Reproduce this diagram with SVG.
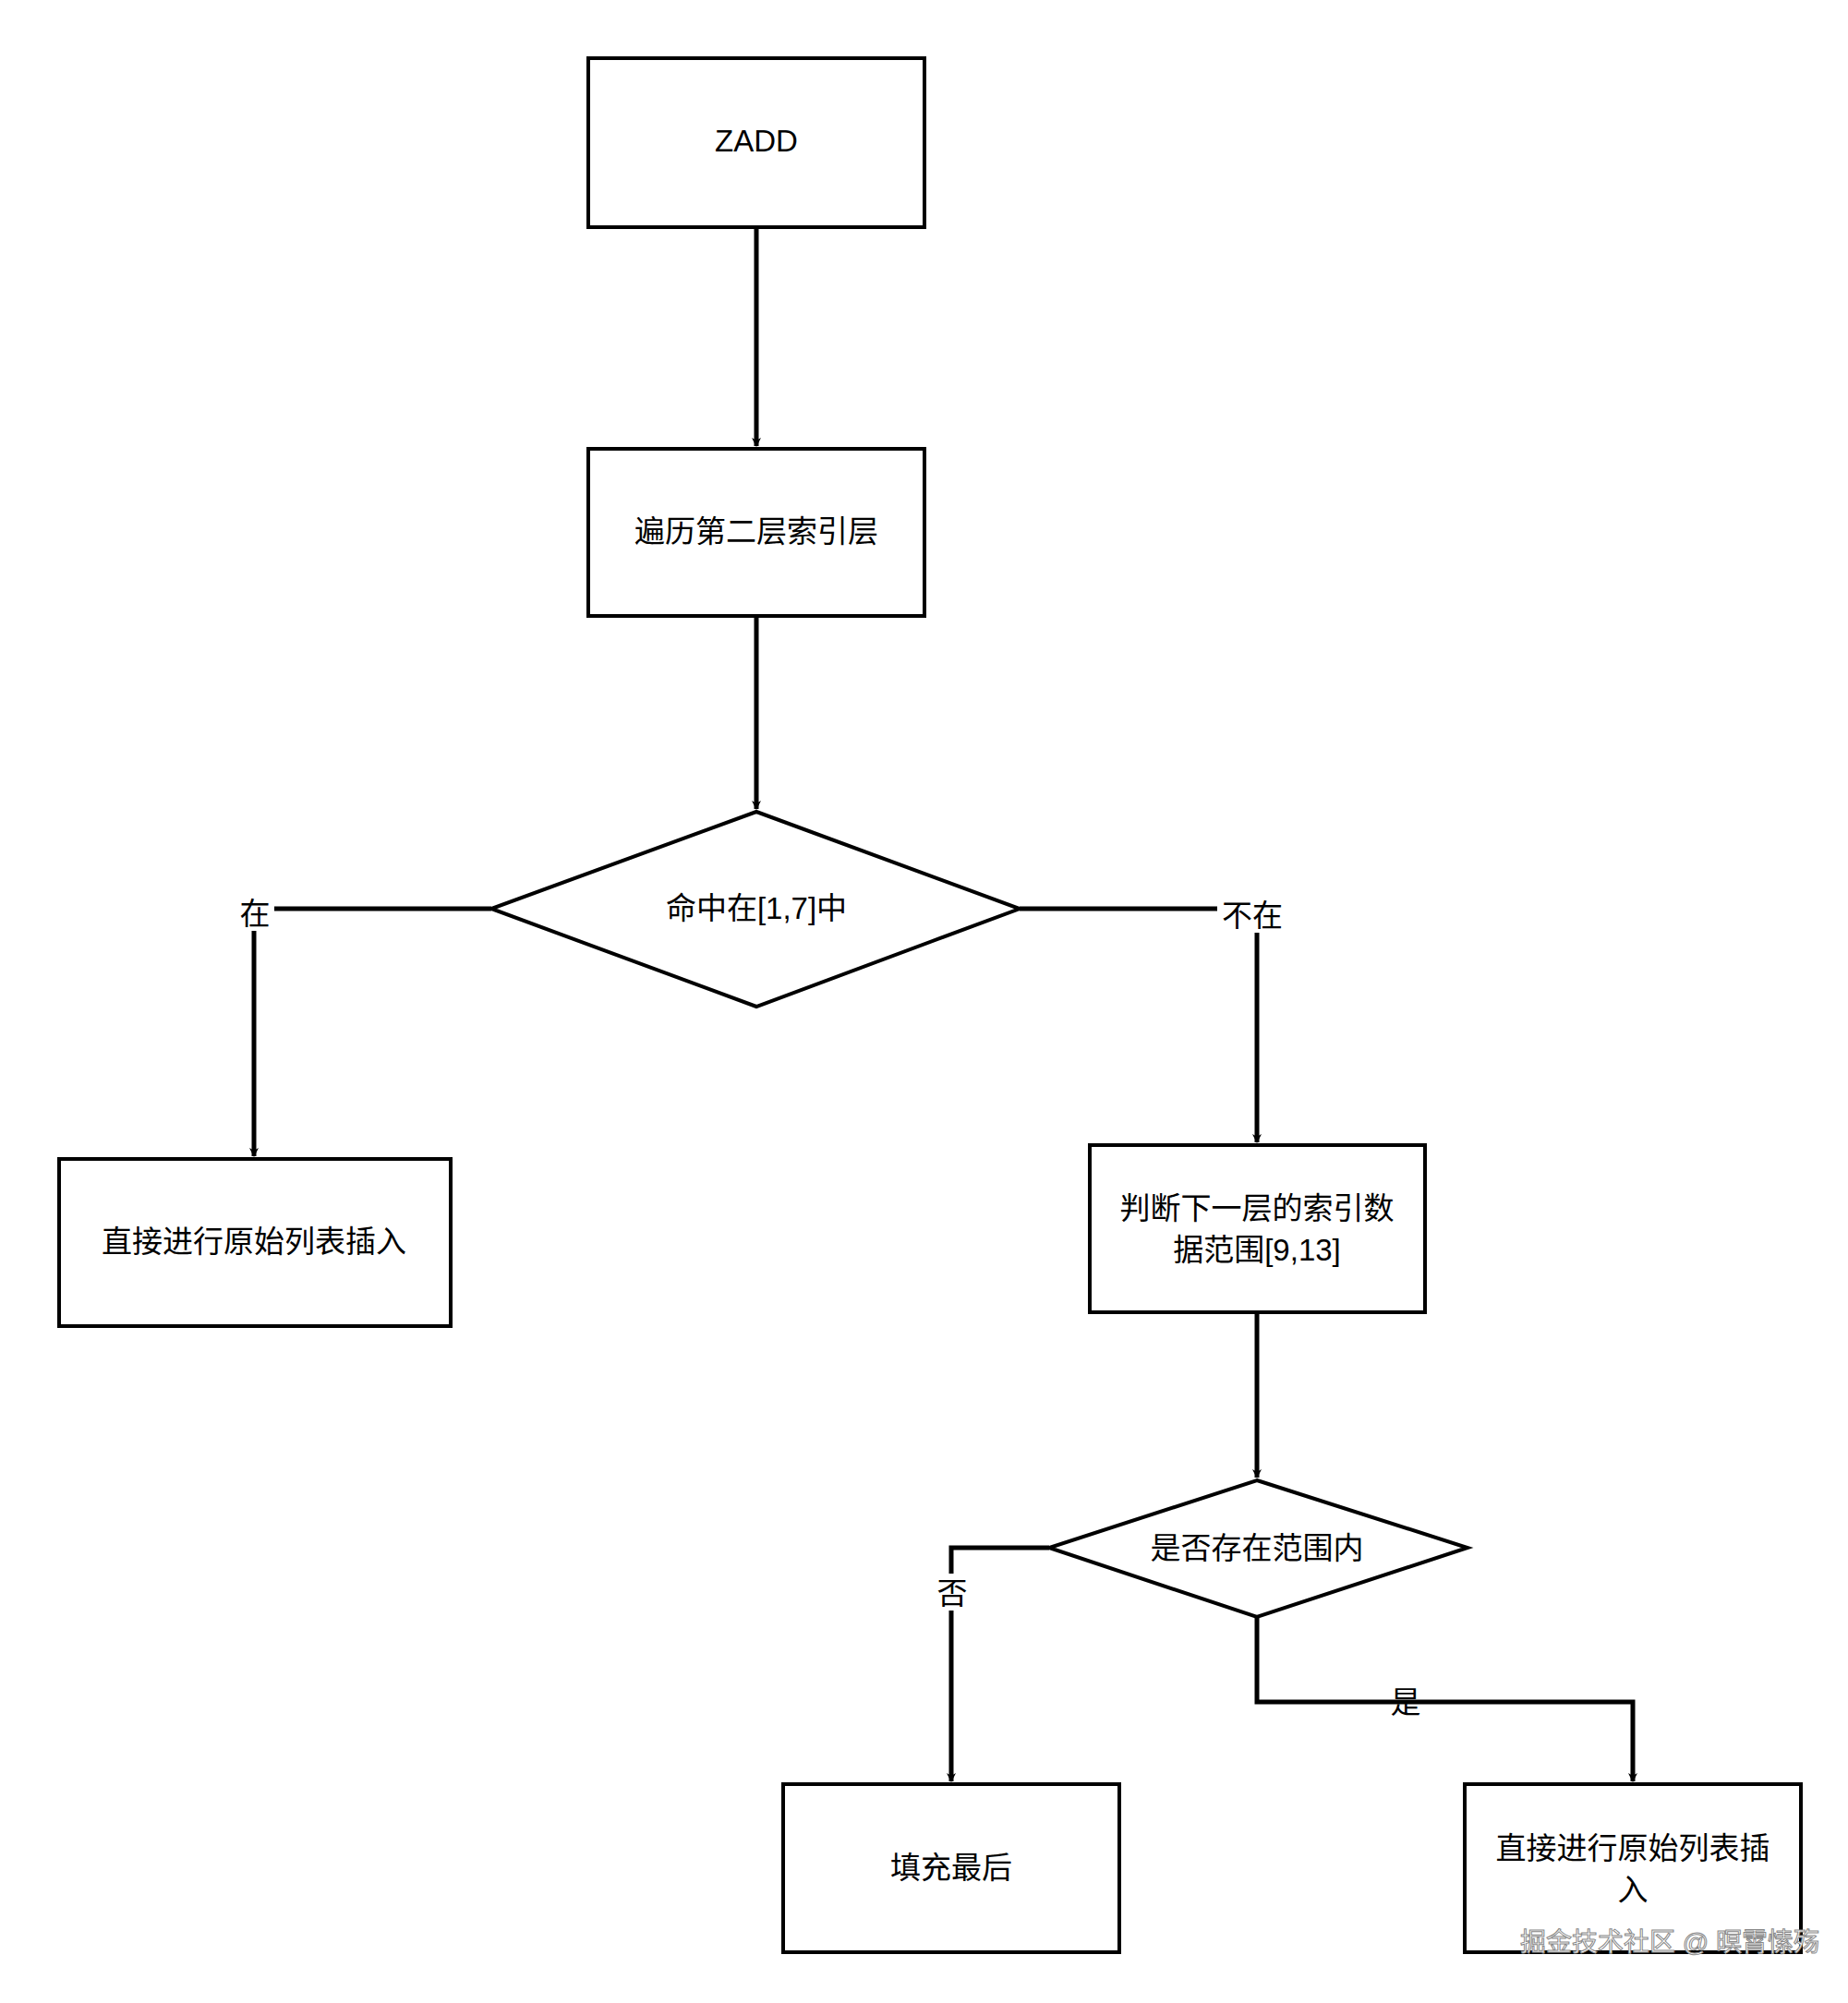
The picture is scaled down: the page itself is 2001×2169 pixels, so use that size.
<svg xmlns="http://www.w3.org/2000/svg" width="2001" height="2169" viewBox="0 0 2001 2169">
<defs>
<marker id="a" markerWidth="10" markerHeight="10" refX="9" refY="5" orient="auto" markerUnits="userSpaceOnUse" viewBox="0 0 10 10"><path d="M0,0 L10,5 L0,10 L3,5 Z" fill="#000"/></marker>
<style>
.n{fill:#fff;stroke:#000;stroke-width:4}
.t{font-family:"Liberation Sans","Noto Sans CJK SC",sans-serif;font-size:33px;text-anchor:middle;fill:#000}
.c{fill:none;stroke:#000;stroke-width:5}
.l{font-family:"Liberation Sans","Noto Sans CJK SC",sans-serif;font-size:33px;text-anchor:middle;fill:#000}
</style>
</defs>
<rect width="2001" height="2169" fill="#fff"/>
<g id="connectors">
<path class="c" d="M819,246 V483" marker-end="url(#a)"/>
<path class="c" d="M819,667 V876" marker-end="url(#a)"/>
<path class="c" d="M532,984 H275 V1252" marker-end="url(#a)"/>
<path class="c" d="M1104,984 H1361 V1237" marker-end="url(#a)"/>
<path class="c" d="M1361,1421 V1600" marker-end="url(#a)"/>
<path class="c" d="M1136,1676 H1030 V1929" marker-end="url(#a)"/>
<path class="c" d="M1361,1751 V1843 H1768 V1929" marker-end="url(#a)"/>
</g>
<g id="labels">
<rect x="255" y="968" width="42" height="40" fill="#fff"/><text class="l" x="276" y="1001">在</text>
<rect x="1318" y="970" width="76" height="40" fill="#fff"/><text class="l" x="1356" y="1003">不在</text>
<rect x="1010" y="1704" width="42" height="40" fill="#fff"/><text class="l" x="1031" y="1737">否</text>
<text class="l" x="1522" y="1855">是</text>
</g>
<g id="zadd"><rect class="n" x="637" y="63" width="364" height="183"/><text class="t" x="819" y="164">ZADD</text></g>
<g id="traverse"><rect class="n" x="637" y="486" width="364" height="181"/><text class="t" x="819" y="587">遍历第二层索引层</text></g>
<g id="hit"><polygon class="n" points="819,879 1104,984 819,1090 532,984"/><text class="t" x="819" y="995">命中在[1,7]中</text></g>
<g id="insert1"><rect class="n" x="64" y="1255" width="424" height="181"/><text class="t" x="275" y="1356">直接进行原始列表插入</text></g>
<g id="judge"><rect class="n" x="1180" y="1240" width="363" height="181"/><text class="t" x="1361" y="1320">判断下一层的索引数</text><text class="t" x="1361" y="1365">据范围[9,13]</text></g>
<g id="inrange"><polygon class="n" points="1361,1603 1589,1676 1361,1751 1136,1676"/><text class="t" x="1361" y="1688">是否存在范围内</text></g>
<g id="fill"><rect class="n" x="848" y="1932" width="364" height="182"/><text class="t" x="1030" y="2034">填充最后</text></g>
<g id="insert2"><rect class="n" x="1586" y="1932" width="364" height="182"/><text class="t" x="1768" y="2013">直接进行原始列表插</text><text class="t" x="1768" y="2058">入</text></g>
<text x="1808" y="2113" font-family="Liberation Sans,Noto Sans CJK SC,sans-serif" font-size="28" text-anchor="middle" fill="#fff" stroke="#888" stroke-width="1">掘金技术社区 @ 暝霄愫殇</text>
</svg>
